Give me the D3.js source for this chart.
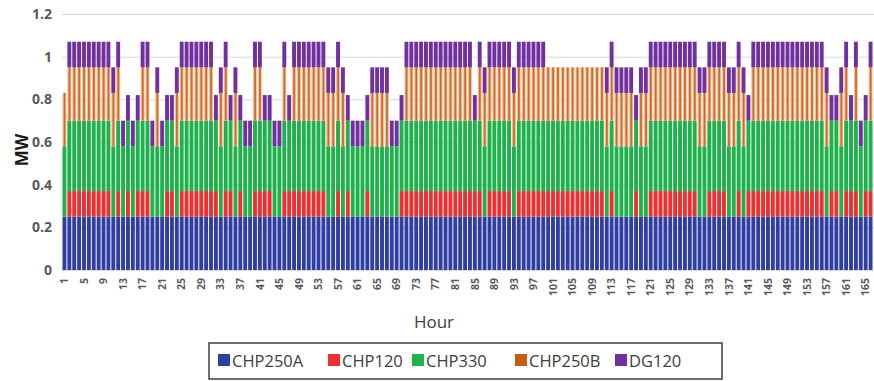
<!DOCTYPE html>
<html><head>
<meta charset="utf-8">
<script src="https://d3js.org/d3.v7.min.js"></script>
<style>
  body { margin: 0; background: #fff; }
  .gridlines line { stroke: #d9d9d9; }
  .gridlines .domain { stroke: none; }
  text { font-family: "Open Sans", "DejaVu Sans", sans-serif; }
</style>
</head>
<body>
<svg id="chart" width="874" height="381"></svg>
<script>

// hours shown on the x axis (1..166)
const hours = d3.range(1, 167);

// MW per unit and hour (0 = unit off)
const chp250a = [
  .25,.25,.25,.25,.25,.25,.25,.25,.25,.25, .25,.25,.25,.25,.25,.25,.25,.25,.25,.25,
  .25,.25,.25,.25,.25,.25,.25,.25,.25,.25, .25,.25,.25,.25,.25,.25,.25,.25,.25,.25,
  .25,.25,.25,.25,.25,.25,.25,.25,.25,.25, .25,.25,.25,.25,.25,.25,.25,.25,.25,.25,
  .25,.25,.25,.25,.25,.25,.25,.25,.25,.25, .25,.25,.25,.25,.25,.25,.25,.25,.25,.25,
  .25,.25,.25,.25,.25,.25,.25,.25,.25,.25, .25,.25,.25,.25,.25,.25,.25,.25,.25,.25,
  .25,.25,.25,.25,.25,.25,.25,.25,.25,.25, .25,.25,.25,.25,.25,.25,.25,.25,.25,.25,
  .25,.25,.25,.25,.25,.25,.25,.25,.25,.25, .25,.25,.25,.25,.25,.25,.25,.25,.25,.25,
  .25,.25,.25,.25,.25,.25,.25,.25,.25,.25, .25,.25,.25,.25,.25,.25,.25,.25,.25,.25,
  .25,.25,.25,.25,.25,.25
];
const chp120 = [
  0,.12,.12,.12,.12,.12,.12,.12,.12,.12,  0,.12,0,.12,0,.12,.12,.12,0,0,
  0,.12,.12,0,.12,.12,.12,.12,.12,.12,    .12,.12,0,.12,.12,0,.12,0,0,.12,
  .12,.12,.12,0,0,.12,.12,.12,.12,.12,    .12,.12,.12,.12,0,0,.12,0,.12,0,
  0,0,.12,0,0,0,0,0,0,.12,               .12,.12,.12,.12,.12,.12,.12,.12,.12,.12,
  .12,.12,.12,.12,.12,.12,0,.12,.12,.12,  .12,.12,0,.12,.12,.12,.12,.12,.12,.12,
  .12,.12,.12,.12,.12,.12,.12,.12,.12,.12, .12,0,.12,0,0,0,0,.12,0,0,
  .12,.12,.12,.12,.12,.12,.12,.12,.12,.12, 0,0,.12,.12,.12,.12,0,0,.12,0,
  .12,.12,.12,.12,.12,.12,.12,.12,.12,.12, .12,.12,.12,.12,.12,.12,0,.12,.12,0,
  .12,.12,.12,0,.12,.12
];
const chp330 = [
  .33,.33,.33,.33,.33,.33,.33,.33,.33,.33, .33,.33,.33,.33,.33,.33,.33,.33,.33,.33,
  .33,.33,.33,.33,.33,.33,.33,.33,.33,.33, .33,.33,.33,.33,.33,.33,.33,.33,.33,.33,
  .33,.33,.33,.33,.33,.33,.33,.33,.33,.33, .33,.33,.33,.33,.33,.33,.33,.33,.33,.33,
  .33,.33,.33,.33,.33,.33,.33,.33,.33,.33, .33,.33,.33,.33,.33,.33,.33,.33,.33,.33,
  .33,.33,.33,.33,.33,.33,.33,.33,.33,.33, .33,.33,.33,.33,.33,.33,.33,.33,.33,.33,
  .33,.33,.33,.33,.33,.33,.33,.33,.33,.33, .33,.33,.33,.33,.33,.33,.33,.33,.33,.33,
  .33,.33,.33,.33,.33,.33,.33,.33,.33,.33, .33,.33,.33,.33,.33,.33,.33,.33,.33,.33,
  .33,.33,.33,.33,.33,.33,.33,.33,.33,.33, .33,.33,.33,.33,.33,.33,.33,.33,.33,.33,
  .33,.33,.33,.33,.33,.33
];
const chp250b = [
  .25,.25,.25,.25,.25,.25,.25,.25,.25,.25, .25,.25,0,0,0,0,.25,.25,0,.25,
  0,0,0,.25,.25,.25,.25,.25,.25,.25,      .25,0,.25,.25,0,.25,0,0,0,.25,
  .25,0,0,0,0,.25,0,.25,.25,.25,          .25,.25,.25,.25,.25,.25,.25,.25,0,0,
  0,0,0,.25,.25,.25,.25,0,0,0,            .25,.25,.25,.25,.25,.25,.25,.25,.25,.25,
  .25,.25,.25,.25,0,.25,.25,.25,.25,.25,  .25,.25,.25,.25,.25,.25,.25,.25,.25,.25,
  .25,.25,.25,.25,.25,.25,.25,.25,.25,.25, .25,.25,.25,.25,.25,.25,.25,0,.25,.25,
  .25,.25,.25,.25,.25,.25,.25,.25,.25,.25, .25,.25,.25,.25,.25,.25,.25,.25,.25,.25,
  0,.25,.25,.25,.25,.25,.25,.25,.25,.25,  .25,.25,.25,.25,.25,.25,.25,0,0,.25,
  .25,0,.25,0,0,.25
];
const dg120 = [
  0,.12,.12,.12,.12,.12,.12,.12,.12,.12,  .12,.12,.12,.12,.12,.12,.12,.12,.12,.12,
  .12,.12,.12,.12,.12,.12,.12,.12,.12,.12, .12,.12,.12,.12,.12,.12,.12,.12,.12,.12,
  .12,.12,.12,.12,.12,.12,.12,.12,.12,.12, .12,.12,.12,.12,.12,.12,.12,.12,.12,.12,
  .12,.12,.12,.12,.12,.12,.12,.12,.12,.12, .12,.12,.12,.12,.12,.12,.12,.12,.12,.12,
  .12,.12,.12,.12,.12,.12,.12,.12,.12,.12, .12,.12,.12,.12,.12,.12,.12,.12,.12,0,
  0,0,0,0,0,0,0,0,0,0,                    0,.12,.12,.12,.12,.12,.12,.12,.12,.12,
  .12,.12,.12,.12,.12,.12,.12,.12,.12,.12, .12,.12,.12,.12,.12,.12,.12,.12,.12,.12,
  .12,.12,.12,.12,.12,.12,.12,.12,.12,.12, .12,.12,.12,.12,.12,.12,.12,.12,.12,.12,
  .12,.12,.12,.12,.12,.12
];

const seriesNames = ["CHP250A", "CHP120", "CHP330", "CHP250B", "DG120"];
const seriesColors = ["#2f3ea3", "#ee3030", "#1fb14c", "#c55a11", "#7030a0"];
const yTicks = [0, 0.2, 0.4, 0.6, 0.8, 1, 1.2];

const svg = d3.select("svg#chart");
const margins = {top: 14, left: 62, right: 0, bottom: 111};
const chartWidth = 873 - margins.left;
const chartHeight = 270 - margins.top;

// table for d3.stack
const keys = ["a", "b", "c", "d", "e"];
const table = hours.map((h, i) => ({hour: h, a: chp250a[i], b: chp120[i], c: chp330[i], d: chp250b[i], e: dg120[i]}));
const stacked = d3.stack().keys(keys)(table);

const xScale = d3.scaleBand().domain(hours).range([margins.left, margins.left + chartWidth]).paddingInner(0.2).paddingOuter(0.1);
const yScale = d3.scaleLinear().domain([0, 1.2]).range([270, margins.top]);

// gridlines
let gridLines = d3.axisLeft(yScale).tickValues(yTicks).tickFormat("").tickSize(-(874 - margins.left));
svg.append("g")
   .attr("class", "gridlines")
   .attr("transform", "translate(" + margins.left + ",0)")
   .call(gridLines);

// bars
stacked.forEach((layer, k) => {
  let g = svg.append("g");
  layer.forEach((d, i) => {
    if (d[1] - d[0] <= 0) return;
    let x = xScale(hours[i]);
    let w = xScale.bandwidth();
    let y = yScale(d[1]);
    let h = yScale(d[0]) - yScale(d[1]);
    if (keys[k] == "d") {
      // this unit looks like a dark stripe on a pale band in the original
      g.append("rect").attr("x", x).attr("y", y).attr("width", w).attr("height", h).attr("fill", "#f3bf98");
      g.append("rect").attr("x", x + w * 0.3).attr("y", y).attr("width", w * 0.45).attr("height", h).attr("fill", "#cf6a28");
    } else {
      g.append("rect").attr("x", x).attr("y", y).attr("width", w).attr("height", h).attr("fill", seriesColors[k]);
    }
  });
});

// y axis labels
let leftAxis = d3.axisLeft(yScale).tickValues(yTicks).tickSize(0).tickPadding(10).tickFormat(d => d3.format("")(d));
let yAxisG = svg.append("g")
   .attr("transform", "translate(" + (margins.left) + ",0)")
   .call(leftAxis);
yAxisG.select(".domain").remove();
yAxisG.selectAll("text").attr("font-size", 14).attr("font-weight", "bold").attr("fill", "#595959")
      .attr("font-family", "'Open Sans', sans-serif");

// x axis labels, every fourth hour
let bottomAxis = d3.axisBottom(xScale).tickValues(hours.filter(h => (h - 1) % 4 == 0)).tickSize(0);
let xAxisG = svg.append("g")
   .attr("transform", "translate(0,270)")
   .call(bottomAxis);
xAxisG.select(".domain").remove();
xAxisG.selectAll("text")
      .attr("font-size", 10.5).attr("font-weight", "bold").attr("fill", "#595959")
      .attr("font-family", "'Open Sans', sans-serif")
      .attr("text-anchor", "end")
      .attr("dy", "0.35em")
      .attr("transform", "translate(0,8) rotate(-90)")
      .attr("x", 0).attr("y", 0);

// axis titles
svg.append("text").attr("transform", "translate(28,150) rotate(-90)")
   .attr("text-anchor", "middle").attr("font-size", 17).attr("font-weight", "bold").attr("fill", "#1a1a1a")
   .text("MW");
svg.append("text").attr("x", 434).attr("y", 328)
   .attr("text-anchor", "middle").attr("font-size", 17).attr("fill", "#404040")
   .text("Hour");

// legend
const legendX = [218, 328, 412, 515, 615];
svg.append("rect").attr("x", 209).attr("y", 343).attr("width", 513).attr("height", 36)
   .attr("fill", "none").attr("stroke", "#404040").attr("stroke-width", 1.5);
seriesNames.forEach((name, i) => {
  svg.append("rect").attr("x", legendX[i]).attr("y", 354).attr("width", 12).attr("height", 12).attr("fill", seriesColors[i]);
  svg.append("text").attr("x", legendX[i] + 14).attr("y", 366.5)
     .attr("font-size", 16.5).attr("fill", "#404040").text(name);
});

</script>
</body>
</html>
